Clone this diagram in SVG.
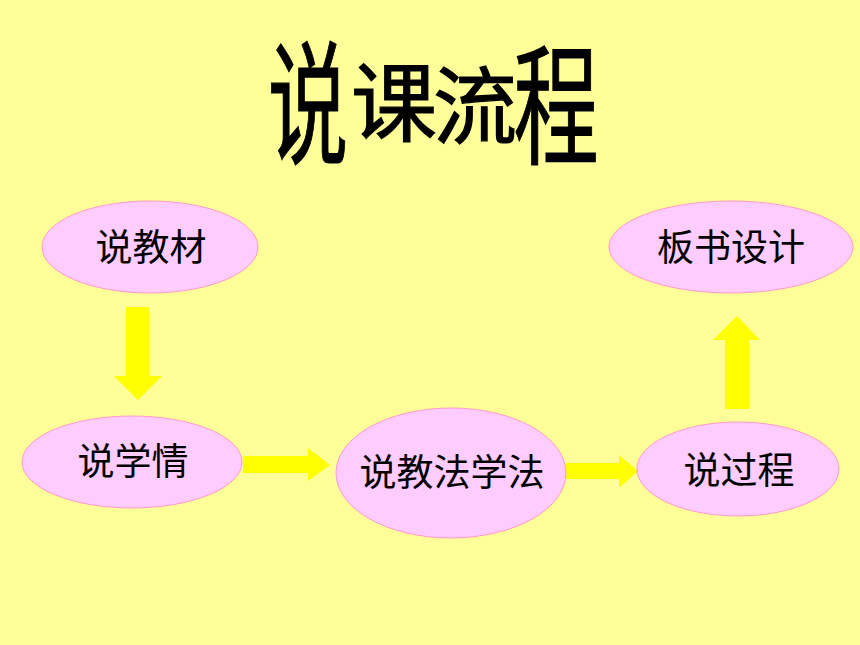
<svg xmlns="http://www.w3.org/2000/svg" width="860" height="645" viewBox="0 0 860 645">
<style>
.node{fill:#FFCCFF;stroke:#FF99CC;stroke-width:1}
.lbl{font-family:"Noto Sans CJK SC","Noto Sans CJK TC",sans-serif;font-size:37px;font-weight:400;fill:#000;text-anchor:middle}
.ttl{font-family:"Noto Sans CJK SC","Noto Sans CJK TC",sans-serif;font-weight:400;fill:#000;text-anchor:middle;stroke:#000;stroke-width:1.2}
.arrow{fill:#FFFF00;stroke:none}
</style>
<rect width="860" height="645" fill="#FFFF99"/>
<g id="title">
<text class="ttl" font-size="134" transform="translate(308,103) scale(0.6,1)" x="0" y="51">说</text>
<text class="ttl" font-size="86" transform="translate(394,102)" x="0" y="33">课</text>
<text class="ttl" font-size="84" transform="translate(475,105)" x="0" y="32">流</text>
<text class="ttl" font-size="131" transform="translate(556,104) scale(0.65,1)" x="0" y="50">程</text>
</g>
<g id="connectors">
<polygon class="arrow" points="126,307 149,307 149,376 162,376 138,400 114,376 126,376"/>
<polygon class="arrow" points="243,456 308,456 308,448 330,465 308,481 308,473 243,473"/>
<polygon class="arrow" points="566,463 619,463 619,455 638,471 619,488 619,479 566,479"/>
<polygon class="arrow" points="725,409 725,340 713,340 737,316 760,340 749,340 749,409"/>
</g>
<g id="node-jiaocai">
<ellipse class="node" cx="150" cy="247" rx="108" ry="46"/>
<text class="lbl" x="151" y="261">说教材</text>
</g>
<g id="node-xueqing">
<ellipse class="node" cx="132" cy="462" rx="110" ry="46"/>
<text class="lbl" x="133" y="475">说学情</text>
</g>
<g id="node-jiaofa">
<ellipse class="node" cx="451" cy="473" rx="115" ry="65"/>
<text class="lbl" x="452" y="486">说教法学法</text>
</g>
<g id="node-guocheng">
<ellipse class="node" cx="738" cy="469" rx="101" ry="47"/>
<text class="lbl" x="739" y="484">说过程</text>
</g>
<g id="node-banshu">
<ellipse class="node" cx="731" cy="247" rx="122" ry="46"/>
<text class="lbl" x="731" y="261">板书设计</text>
</g>
</svg>
